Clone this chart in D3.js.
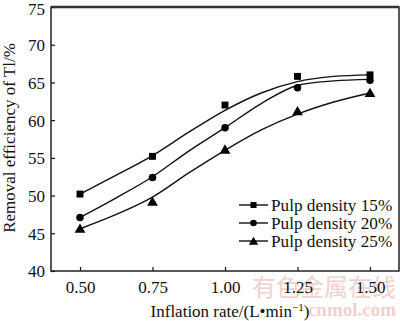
<!DOCTYPE html>
<html><head><meta charset="utf-8">
<script src="https://cdn.jsdelivr.net/npm/d3@7"></script>
<style>body{margin:0;background:#fff}svg{display:block}</style>
</head><body>
<svg id="c" width="400" height="321"></svg>
<script>
const rates = [0.50, 0.75, 1.00, 1.25, 1.50];
const s15 = [50.2, 55.2, 62.0, 65.8, 66.0];
const s20 = [47.1, 52.4, 59.0, 64.3, 65.3];
const s25 = [45.6, 49.2, 56.1, 61.2, 63.6];
// fitted curves
const fitX = [0.50, 0.625, 0.75, 0.875, 1.00, 1.125, 1.25, 1.375, 1.50];
const fit15 = [50.2, 52.7, 55.3, 58.4, 61.3, 63.6, 65.1, 65.8, 66.0];
const fit20 = [47.1, 49.7, 52.5, 55.9, 59.0, 62.2, 64.6, 65.2, 65.4];
const fit25 = [45.6, 47.5, 49.8, 53.0, 56.0, 58.7, 60.8, 62.4, 63.6];
const names = ["Pulp density 15%", "Pulp density 20%", "Pulp density 25%"];
const symbols = [d3.symbolSquare, d3.symbolCircle, d3.symbolTriangle];
const symSize = [48, 44, 50];
const xTicks = [0.50, 0.75, 1.00, 1.25, 1.50];
const yTicks = [40, 45, 50, 55, 60, 65, 70, 75];

const svg = d3.select("#c");
const L = 51, R = 399, T = 7, B = 271;
const x = d3.scaleLinear().domain([0.4, 1.6]).range([L, R]);
const y = d3.scaleLinear().domain([40, 75]).range([B, T]);
const font = "'Liberation Serif','Times New Roman',serif";

// watermark
const wm = svg.append("g").attr("fill", "#f2d0d0").attr("font-family", "'Noto Sans CJK SC',sans-serif");
wm.append("text").attr("x", 396).attr("y", 296).attr("text-anchor", "end").attr("font-size", 24).text("有色金属在线");
wm.append("text").attr("x", 396).attr("y", 316).attr("text-anchor", "end").attr("font-size", 19)
  .attr("font-family", font).attr("font-weight", "bold").text("cnmol.com");

// axes
const xAxis = d3.axisBottom(x).tickValues(xTicks).tickFormat(d3.format(".2f")).tickSizeInner(-4).tickSizeOuter(0).tickPadding(10);
const yAxis = d3.axisLeft(y).tickValues(yTicks).tickFormat(d3.format("d")).tickSizeInner(-4).tickSizeOuter(0).tickPadding(6);
const gx = svg.append("g").attr("transform", `translate(0,${B})`).call(xAxis);
const gy = svg.append("g").attr("transform", `translate(${L},0)`).call(yAxis);
[gx, gy].forEach(g => {
  g.select(".domain").remove();
  g.selectAll("line").attr("stroke", "#111").attr("stroke-width", 1.2);
  g.selectAll("text").attr("font-family", font).attr("font-size", 17).attr("fill", "#111");
});
gy.selectAll("text").attr("dy", d => d === 75 ? "0.45em" : "0.35em");

// frame
svg.append("rect").attr("x", L).attr("y", T).attr("width", R - L).attr("height", B - T)
  .attr("fill", "none").attr("stroke", "#222").attr("stroke-width", 1.5);
svg.append("line").attr("x1", L).attr("x2", R).attr("y1", T).attr("y2", T).attr("stroke", "#333").attr("stroke-width", 2.5);

// curves
const line = d3.line().x((d, i) => x(fitX[i])).y(d => y(d)).curve(d3.curveMonotoneX);
[fit15, fit20, fit25].forEach(f => {
  svg.append("path").attr("d", line(f)).attr("fill", "none").attr("stroke", "#111").attr("stroke-width", 1.4);
});
// points
[s15, s20, s25].forEach((s, k) => {
  svg.append("g").selectAll("path").data(s).join("path")
    .attr("transform", (d, i) => `translate(${x(rates[i])},${y(d) + (k === 2 ? 1 : 0)})`)
    .attr("d", d3.symbol().type(symbols[k]).size(symSize[k])).attr("fill", "#000");
});

// legend
const lg = svg.append("g");
names.forEach((n, i) => {
  const yy = 205 + i * 18;
  lg.append("line").attr("x1", 239).attr("x2", 268).attr("y1", yy).attr("y2", yy).attr("stroke", "#111").attr("stroke-width", 1.4);
  lg.append("path").attr("transform", `translate(253.5,${yy + (i === 2 ? 1 : 0)})`)
    .attr("d", d3.symbol().type(symbols[i]).size(symSize[i] * 0.75)).attr("fill", "#000");
  lg.append("text").attr("x", 271).attr("y", yy).attr("dy", "0.35em").attr("font-family", font)
    .attr("font-size", 17.2).attr("fill", "#111").text(n);
});

// axis titles
const xt = svg.append("text").attr("x", 230).attr("y", 317).attr("text-anchor", "middle")
  .attr("font-family", font).attr("font-size", 17).attr("fill", "#111");
xt.append("tspan").text("Inflation rate/(L\u2022min");
xt.append("tspan").attr("dy", -6).attr("font-size", 11).text("\u22121");
xt.append("tspan").attr("dy", 6).text(")");
svg.append("text").attr("transform", "translate(15,138) rotate(-90)").attr("text-anchor", "middle")
  .attr("font-family", font).attr("font-size", 17).attr("fill", "#111").text("Removal efficiency of Tl/%");
</script>
</body></html>
